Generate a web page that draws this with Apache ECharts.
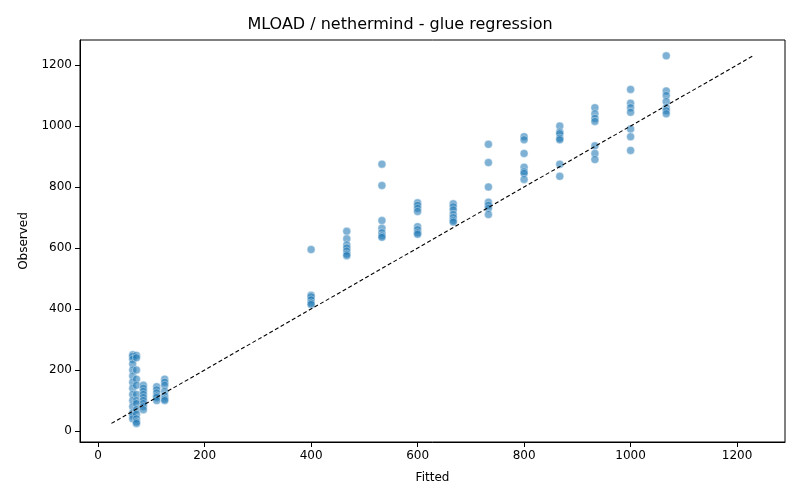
<!DOCTYPE html>
<html>
<head>
<meta charset="utf-8">
<script src="https://cdn.jsdelivr.net/npm/echarts@6/dist/echarts.min.js"></script>
<style>html,body{margin:0;padding:0;background:#fff}#chart{width:800px;height:500px}</style>
</head>
<body>
<div id="chart"></div>
<script>
"use strict";

/* fitted value for each group, observed values in that group */
var fittedGroups = [65, 72, 85, 110, 125, 400, 467, 533, 600, 667, 733, 800, 867, 933, 1000, 1067];
var observedGroups = [
	[250, 245, 235, 220, 200, 180, 160, 140, 120, 100, 80, 60, 50, 40],
	[248, 240, 200, 170, 150, 120, 100, 90, 70, 55, 40, 30, 25],
	[150, 140, 130, 120, 110, 100, 90, 80, 70],
	[145, 135, 125, 115, 110, 100],
	[170, 160, 150, 130, 115, 105, 100],
	[595, 445, 440, 430, 420, 415],
	[655, 630, 610, 600, 590, 580, 575],
	[875, 805, 690, 665, 650, 640, 635],
	[748, 740, 730, 720, 670, 660, 650, 645],
	[745, 735, 725, 710, 700, 690, 685],
	[940, 880, 800, 750, 740, 730, 710],
	[965, 955, 910, 865, 850, 845, 825],
	[1000, 980, 975, 960, 955, 875, 835],
	[1060, 1040, 1025, 1015, 935, 910, 890],
	[1120, 1075, 1060, 1045, 990, 965, 920],
	[1230, 1115, 1100, 1080, 1060, 1050, 1040]
];
var identityLine = [[25, 25], [1232, 1232]];
var xTicks = [0, 200, 400, 600, 800, 1000, 1200];
var yTicks = [0, 200, 400, 600, 800, 1000, 1200];

var points = [];
for (var i = 0; i < fittedGroups.length; i++) {
	for (var j = 0; j < observedGroups[i].length; j++) {
		points.push([fittedGroups[i], observedGroups[i][j]]);
	}
}

var axisText = {color: '#000', fontSize: 12, fontFamily: "'DejaVu Sans', sans-serif"};
var plain = function (v) { return String(v); };
var chart = echarts.init(document.getElementById('chart'));
chart.setOption({
	animation: false,
	title: {
		text: 'MLOAD / nethermind - glue regression',
		left: 'center', top: 12,
		textStyle: {fontSize: 16, fontWeight: 'normal', color: '#000', fontFamily: "'DejaVu Sans', sans-serif"}
	},
	grid: {left: 80, right: 15, top: 40, bottom: 58, show: true, borderColor: '#000', borderWidth: 1},
	xAxis: {
		type: 'value', min: -34, max: 1290,
		name: 'Fitted', nameLocation: 'middle', nameGap: 30, nameTextStyle: axisText,
		axisLine: {show: true, onZero: false, lineStyle: {color: '#000'}},
		axisTick: {show: true, customValues: xTicks, lineStyle: {color: '#000'}},
		axisLabel: Object.assign({customValues: xTicks, formatter: plain}, axisText),
		splitLine: {show: false}
	},
	yAxis: {
		type: 'value', min: -36, max: 1282,
		name: 'Observed', nameLocation: 'middle', nameGap: 50, nameTextStyle: axisText,
		axisLine: {show: true, onZero: false, lineStyle: {color: '#000'}},
		axisTick: {show: true, customValues: yTicks, lineStyle: {color: '#000'}},
		axisLabel: Object.assign({customValues: yTicks, formatter: plain}, axisText),
		splitLine: {show: false}
	},
	series: [
		{
			type: 'scatter', data: points, symbolSize: 8,
			itemStyle: {color: 'rgba(31,119,180,0.72)', borderColor: 'rgba(255,255,255,0.8)', borderWidth: 0.6}
		},
		{
			type: 'line', data: identityLine, symbol: 'none',
			lineStyle: {color: '#000', width: 1.1, type: [4, 2.5]}
		}
	]
});
</script>
</body>
</html>
